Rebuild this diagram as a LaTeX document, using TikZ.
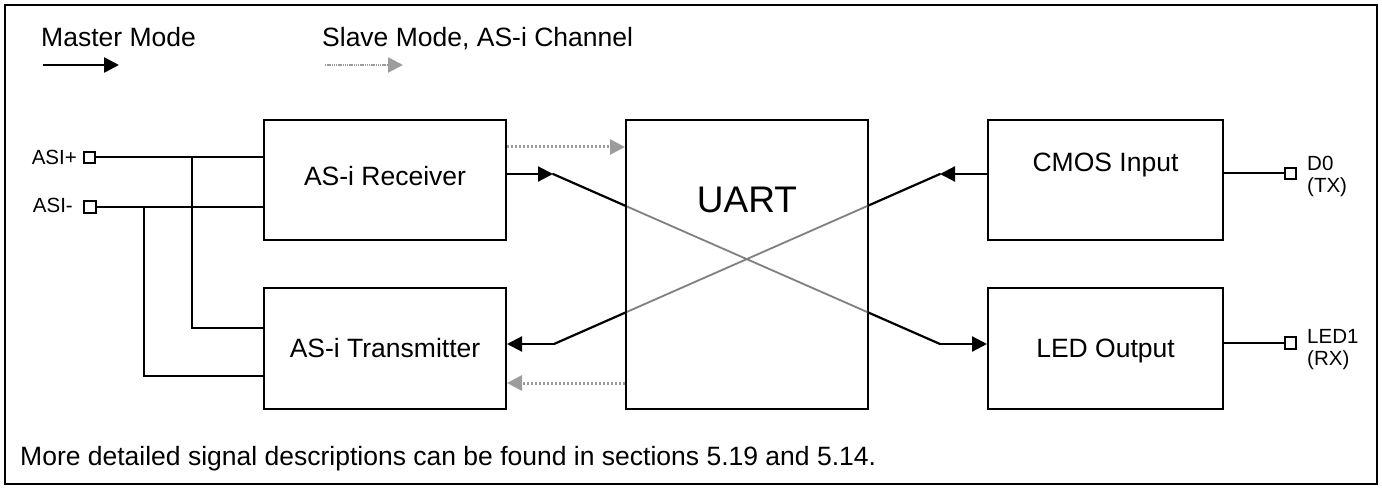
\documentclass[tikz,border=0pt]{standalone}
\usepackage{fontspec}
\setmainfont{Liberation Sans}
\usetikzlibrary{arrows.meta,calc}
\definecolor{diaggray}{HTML}{808080}
\definecolor{slavegray}{HTML}{9C9C9C}
\tikzset{
  block/.style={draw=black, line width=2pt, rectangle, inner sep=0pt},
  lbl/.style={inner sep=0pt, font=\fontsize{26.5}{31}\selectfont},
  pinlbl/.style={inner sep=0pt, font=\fontsize{20.5}{24}\selectfont},
  pinbox/.style={draw=black, line width=1.8pt, rectangle, minimum width=11.5pt, minimum height=11.5pt, inner sep=0pt},
  wire/.style={draw=black, line width=2pt},
  master/.style={draw=black, line width=2.2pt},
  mtip/.style={-{Triangle[length=15pt,width=15pt]}},
  slave/.style={draw=slavegray, line width=3pt, dash pattern=on 2.4pt off 1.6pt, -{Triangle[length=15pt,width=15pt,fill=slavegray,color=slavegray]}},
}
\begin{document}
\begin{tikzpicture}[x=1pt,y=-1pt]
\useasboundingbox (0,0) rectangle (1382,489);
% frame
\draw[line width=2.6pt] (5,5) rectangle (1377,484);

% legend
\node[lbl, anchor=base west] (mm) at (41,47) {Master Mode};
\node[lbl, anchor=base west] (sm) at (322,47) {Slave Mode, AS-i Channel};
\coordinate (lm1) at (43,65);
\coordinate (lm2) at (119,65);
\coordinate (ls1) at (325,65);
\coordinate (ls2) at (403,65);
\draw[master, line width=2.6pt, mtip] (lm1) -- (lm2);
\draw[slave, line width=2.4pt, dash pattern=on 1.4pt off 0.8pt] (ls1) -- (ls2);

% blocks
\node[block, minimum width=242pt, minimum height=120pt] (rx) at (385,180) {};
\node[block, minimum width=242pt, minimum height=121pt] (tx) at (385,348.5) {};
\node[block, minimum width=242pt, minimum height=289pt] (u) at (747,264.5) {};
\node[block, minimum width=235pt, minimum height=120pt] (cm) at (1105.5,180) {};
\node[block, minimum width=235pt, minimum height=121pt] (led) at (1105.5,348.5) {};

\node[lbl, anchor=base] (rxT) at (385,186) {AS-i Receiver};
\node[lbl, anchor=base] (txT) at (385,357) {AS-i Transmitter};
\node[inner sep=0pt, anchor=base, font=\fontsize{37}{44}\selectfont] (uT) at (747,213) {UART};
\node[lbl, anchor=base] (cmT) at (1105.5,172) {CMOS Input};
\node[lbl, anchor=base] (ledT) at (1105.5,357) {LED Output};

% left pins
\node[pinbox] (pp) at (89.5,157.5) {};
\node[pinbox] (pm) at (90,207) {};
\node[pinlbl, anchor=base east] (ppT) at (77,165) {ASI+};
\node[pinlbl, anchor=base east] (pmT) at (73,213) {ASI-};

\coordinate (j1) at (192,157.5);
\coordinate (j2) at (192,328);
\coordinate (k1) at (144,207);
\coordinate (k2) at (144,376);
\draw[wire] (pp.east) -- (rx.west |- pp.east);
\draw[wire] (pm.east) -- (rx.west |- pm.east);
\draw[wire] (j1) -- (j2) -- (tx.west |- j2);
\draw[wire] (k1) -- (k2) -- (tx.west |- k2);

% right pins
\node[pinbox] (pd) at (1290.5,173.5) {};
\node[pinbox] (pl) at (1290.5,343) {};
\draw[wire] (cm.east |- pd.west) -- (pd.west);
\draw[wire] (led.east |- pl.west) -- (pl.west);
\node[pinlbl, anchor=base west] (d0T) at (1307,171) {D0};
\node[pinlbl, anchor=base west] (txpT) at (1307,193) {(TX)};
\node[pinlbl, anchor=base west] (l1T) at (1307,343) {LED1};
\node[pinlbl, anchor=base west] (rxpT) at (1307,365) {(RX)};

% master mode paths
\coordinate (a1) at (553,174);
\coordinate (a2) at (940,344);
\coordinate (c1) at (940,174);
\coordinate (c2) at (554,344);
\draw[master, mtip] (rx.east |- a1) -- (a1);
\draw[master, line cap=round] (a1) -- (a2);
\draw[master, mtip] (a2) -- (led.west |- a2);
\draw[master, mtip] (cm.west |- c1) -- (c1);
\draw[master, line cap=round] (c1) -- (c2);
\draw[master, mtip] (c2) -- (tx.east |- c2);
\begin{scope}
  \clip ([xshift=2pt,yshift=2pt]u.south west) rectangle ([xshift=-2pt,yshift=-2pt]u.north east);
  \draw[white, line width=3.4pt] (a1) -- (a2);
  \draw[white, line width=3.4pt] (c1) -- (c2);
  \draw[diaggray, line width=1.8pt] (a1) -- (a2);
  \draw[diaggray, line width=1.8pt] (c1) -- (c2);
\end{scope}

% slave mode paths
\coordinate (s1) at (506,147);
\coordinate (s2) at (626,383);
\draw[slave] (rx.east |- s1) -- (u.west |- s1);
\draw[slave] (u.west |- s2) -- (tx.east |- s2);

% note
\node[lbl, anchor=base west] (note) at (20,465) {More detailed signal descriptions can be found in sections 5.19 and 5.14.};
\end{tikzpicture}
\end{document}
